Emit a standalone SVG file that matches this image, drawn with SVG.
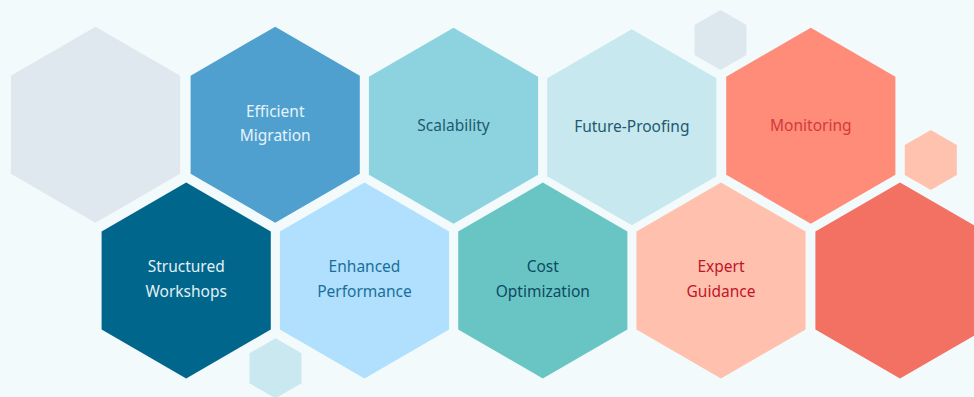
<svg xmlns="http://www.w3.org/2000/svg" width="974" height="397" viewBox="0 0 974 397">
<style>
.t{font-family:"Noto Sans","Open Sans",sans-serif;font-size:15.5px;text-anchor:middle}
</style>
<defs>
<polygon id="hex" points="0,-98 84.6,-49 84.6,49 0,98 -84.6,49 -84.6,-49"/>
<polygon id="hexs" points="0,-30 26,-15 26,15 0,30 -26,15 -26,-15"/>
</defs>
<rect width="974" height="397" fill="#f3fafc"/>
<g id="deco">
<use href="#hexs" x="720.5" y="40" fill="#dde8ee"/>
<use href="#hexs" x="930.8" y="160" fill="#ffc2ae"/>
<use href="#hexs" x="275.5" y="368.3" fill="#c9e8ef"/>
</g>
<g id="blank-gray"><use href="#hex" x="95.5" y="124.7" fill="#dee8ee"/></g>
<g id="efficient-migration"><use href="#hex" x="275.2" y="124.7" fill="#4fa0cf"/>
<text class="t" x="275.2" y="116.7" fill="#e6f3fa">Efficient</text>
<text class="t" x="275.2" y="141.3" fill="#e6f3fa">Migration</text></g>
<g id="scalability"><use href="#hex" x="453.5" y="125.8" fill="#8dd3df"/>
<text class="t" x="453.5" y="130.7" fill="#1d5a6e">Scalability</text></g>
<g id="future-proofing"><use href="#hex" x="631.8" y="127.3" fill="#c8e8ef"/>
<text class="t" x="631.8" y="132.3" fill="#1d5a6e">Future-Proofing</text></g>
<g id="monitoring"><use href="#hex" x="810.8" y="125.7" fill="#ff8b79"/>
<text class="t" x="810.8" y="131" fill="#d43a3a">Monitoring</text></g>
<g id="structured-workshops"><use href="#hex" x="186.2" y="280.5" fill="#00668c"/>
<text class="t" x="186.2" y="272.3" fill="#e0f0f5">Structured</text>
<text class="t" x="186.2" y="296.7" fill="#e0f0f5">Workshops</text></g>
<g id="enhanced-performance"><use href="#hex" x="364.5" y="280.5" fill="#b0e0fd"/>
<text class="t" x="364.5" y="272.3" fill="#1a6f9a">Enhanced</text>
<text class="t" x="364.5" y="296.7" fill="#1a6f9a">Performance</text></g>
<g id="cost-optimization"><use href="#hex" x="542.8" y="280.5" fill="#69c5c3"/>
<text class="t" x="542.8" y="272.3" fill="#0d4a63">Cost</text>
<text class="t" x="542.8" y="296.7" fill="#0d4a63">Optimization</text></g>
<g id="expert-guidance"><use href="#hex" x="721" y="280.5" fill="#ffc1ad"/>
<text class="t" x="721" y="272.3" fill="#c0142a">Expert</text>
<text class="t" x="721" y="296.7" fill="#c0142a">Guidance</text></g>
<g id="blank-red"><use href="#hex" x="900" y="280.5" fill="#f27162"/></g>
</svg>
